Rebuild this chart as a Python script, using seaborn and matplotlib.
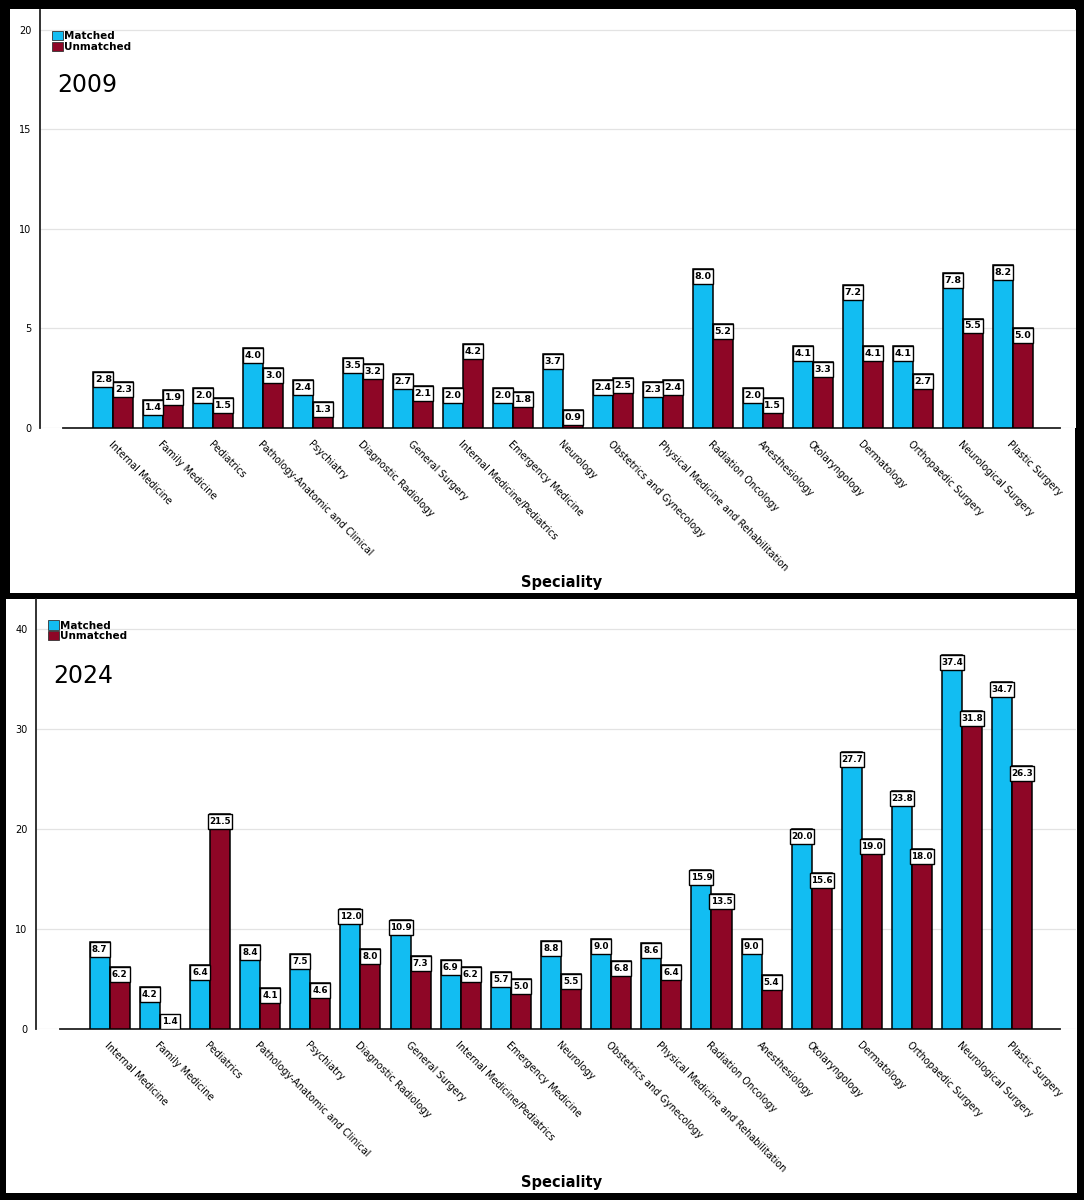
import matplotlib
matplotlib.use("Agg")
import matplotlib.pyplot as plt
from matplotlib.patches import Rectangle, Patch
import seaborn as sns
import pandas as pd

specialties = [
    "Internal Medicine", "Family Medicine", "Pediatrics",
    "Pathology-Anatomic and Clinical", "Psychiatry", "Diagnostic Radiology",
    "General Surgery", "Internal Medicine/Pediatrics", "Emergency Medicine",
    "Neurology", "Obstetrics and Gynecology",
    "Physical Medicine and Rehabilitation", "Radiation Oncology",
    "Anesthesiology", "Otolaryngology", "Dermatology", "Orthopaedic Surgery",
    "Neurological Surgery", "Plastic Surgery",
]

matched_2009 = [2.8, 1.4, 2.0, 4.0, 2.4, 3.5, 2.7, 2.0, 2.0, 3.7,
                2.4, 2.3, 8.0, 2.0, 4.1, 7.2, 4.1, 7.8, 8.2]
unmatched_2009 = [2.3, 1.9, 1.5, 3.0, 1.3, 3.2, 2.1, 4.2, 1.8, 0.9,
                  2.5, 2.4, 5.2, 1.5, 3.3, 4.1, 2.7, 5.5, 5.0]

matched_2024 = [8.7, 4.2, 6.4, 8.4, 7.5, 12.0, 10.9, 6.9, 5.7, 8.8,
                9.0, 8.6, 15.9, 9.0, 20.0, 27.7, 23.8, 37.4, 34.7]
unmatched_2024 = [6.2, 1.4, 21.5, 4.1, 4.6, 8.0, 7.3, 6.2, 5.0, 5.5,
                  6.8, 6.4, 13.5, 5.4, 15.6, 19.0, 18.0, 31.8, 26.3]

groups = ["Matched", "Unmatched"]
colors = {"Matched": "#12BDF2", "Unmatched": "#8E0626"}


def make_df(matched, unmatched):
    rows = []
    for s, m, u in zip(specialties, matched, unmatched):
        rows.append({"Speciality": s, "Group": "Matched", "Value": m})
        rows.append({"Speciality": s, "Group": "Unmatched", "Value": u})
    return pd.DataFrame(rows)


sns.set_style("white")
plt.rcParams["font.family"] = ["DejaVu Sans"]
plt.rcParams["text.color"] = "black"
plt.rcParams["xtick.color"] = "black"
plt.rcParams["ytick.color"] = "black"

fig = plt.figure(figsize=(10.84, 12), dpi=100, facecolor="black")
W, H = 1084, 1200

# white panels
fig.add_artist(Rectangle((10 / W, 1 - 593 / H), 1065 / W, 584 / H,
                         transform=fig.transFigure, facecolor="white",
                         edgecolor="none", zorder=0))
fig.add_artist(Rectangle((6 / W, 1 - 1193 / H), 1071 / W, 594 / H,
                         transform=fig.transFigure, facecolor="white",
                         edgecolor="none", zorder=0))


def draw_panel(rect, matched, unmatched, ymax, ystep, year, box_h, lab_size):
    ax = fig.add_axes(rect)
    ax.set_facecolor("white")
    df = make_df(matched, unmatched)
    sns.barplot(data=df, x="Speciality", y="Value", hue="Group",
                hue_order=groups, palette=colors, saturation=1,
                edgecolor="black", linewidth=1.1, ax=ax, legend=False,
                zorder=3)
    n = len(specialties)
    ax.set_xlim(-1.47, n + 0.27)
    ax.set_ylim(0, ymax)
    ax.set_yticks(range(0, int(ymax) + 1, ystep))
    ax.yaxis.grid(True, color="#E3E3E3", linewidth=0.9, zorder=0)
    ax.set_axisbelow(True)
    for side in ["top", "right"]:
        ax.spines[side].set_visible(False)
    ax.spines["left"].set_color("#222222")
    ax.spines["left"].set_linewidth(1.3)
    ax.spines["bottom"].set_color("#222222")
    ax.spines["bottom"].set_linewidth(1.3)
    ax.spines["bottom"].set_bounds(-1, n - 0.05)
    ax.tick_params(axis="y", length=0, labelsize=7, pad=6)
    ax.tick_params(axis="x", length=4, width=0.8, color="#888888",
                   labelsize=7, pad=4)
    ax.set_xticks(range(n))
    ax.set_xticklabels(specialties, rotation=-45, ha="left", va="top",
                       rotation_mode="anchor")
    ax.set_xlabel("")
    ax.set_ylabel("")

    # value labels as white boxes at the top of each bar
    for cont in ax.containers:
        for bar in cont:
            h = bar.get_height()
            x = bar.get_x()
            w = bar.get_width()
            label = f"{h:.1f}"
            bw = w if len(label) <= 3 else w * 1.2
            y0 = max(0, h - box_h)
            ax.add_patch(Rectangle((x + w / 2 - bw / 2, y0), bw, box_h,
                                   facecolor="white", edgecolor="black",
                                   linewidth=1.0, zorder=4))
            ax.text(x + w / 2, y0 + box_h / 2, label, ha="center",
                    va="center", fontsize=lab_size, fontweight="bold",
                    zorder=5)

    handles = [Patch(facecolor=colors[g], edgecolor="#333333", linewidth=0.6,
                     label=g) for g in groups]
    ax.legend(handles=handles, loc="upper left",
              bbox_to_anchor=(0.008, 0.96), frameon=False,
              handlelength=1.0, handleheight=1.0, handletextpad=0.15,
              labelspacing=0.05, borderaxespad=0,
              prop={"size": 7.5, "weight": "bold"})
    ax.text(0.017, 0.85, year, transform=ax.transAxes, fontsize=17,
            fontweight="medium", va="top", ha="left")
    return ax


draw_panel([40 / W, 1 - 428 / H, 1036 / W, 418 / H],
           matched_2009, unmatched_2009, 21, 5, "2009", 0.75, 6.8)
draw_panel([36 / W, 1 - 1029 / H, 1040 / W, 430 / H],
           matched_2024, unmatched_2024, 43, 10, "2024", 1.5, 6.3)

fig.text(562 / W, 1 - 582 / H, "Speciality", ha="center", va="center",
         fontsize=10.5, fontweight="bold")
fig.text(562 / W, 1 - 1183 / H, "Speciality", ha="center", va="center",
         fontsize=10.5, fontweight="bold")

fig.savefig("out.png", dpi=100, facecolor="black")
